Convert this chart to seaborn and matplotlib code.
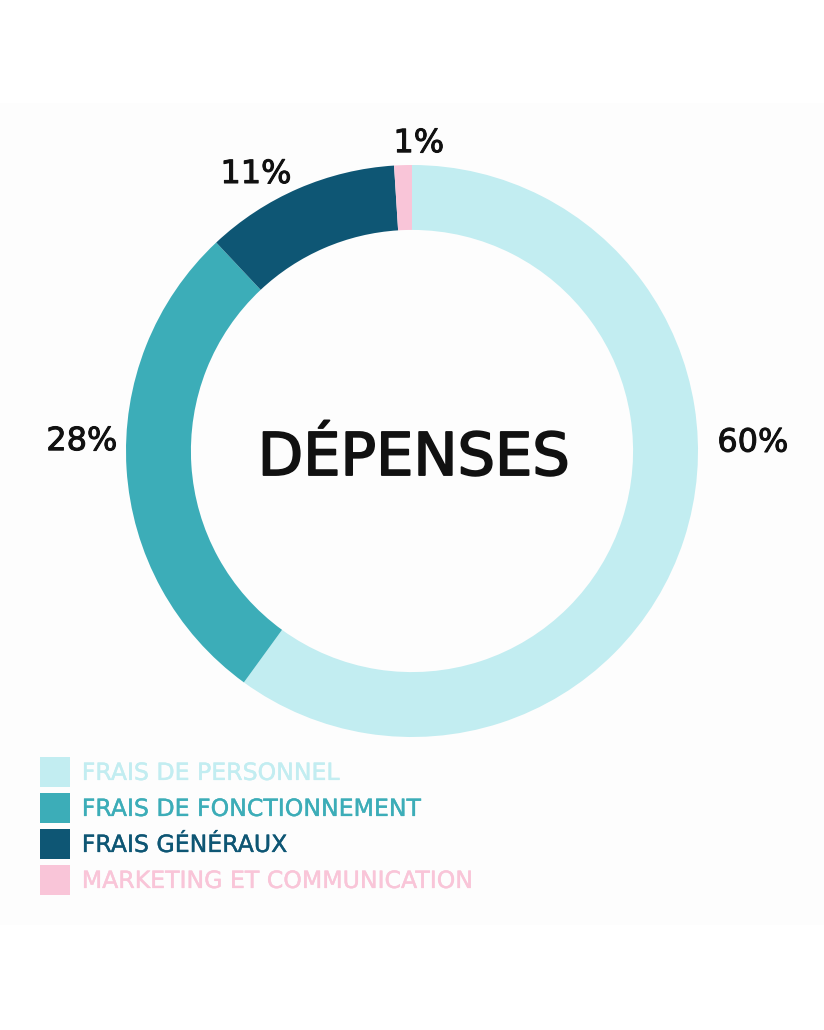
import matplotlib.pyplot as plt
from matplotlib import patheffects
from matplotlib.patches import Patch, Rectangle
import seaborn as sns


categories = [
    "FRAIS DE PERSONNEL",
    "FRAIS DE FONCTIONNEMENT",
    "FRAIS GÉNÉRAUX",
    "MARKETING ET COMMUNICATION",
]
shares = [60, 28, 11, 1]
share_labels = ["60%", "28%", "11%", "1%"]
colors = ["#c2edf1", "#3cadb8", "#0e5674", "#f9c5d8"]
center_title = "DÉPENSES"

# label anchors (donut units, baseline)
label_pos = [(1.192, -0.002), (-1.154, 0.003), (-0.545, 0.937), (0.024, 1.045)]


def heavier(width, color):
    # fake a medium weight by stroking the glyph outline
    return [patheffects.withStroke(linewidth=width, foreground=color)]


sns.set_theme(style="white")
plt.rcParams["font.family"] = ["DejaVu Sans"]

W, H = 824, 1030
fig = plt.figure(figsize=(W / 100, H / 100), dpi=100)
fig.patch.set_facecolor("white")

# light panel behind the chart
fig.patches.append(
    Rectangle((0, 1 - 925 / H), 1, (925 - 103) / H,
              transform=fig.transFigure, facecolor="#fdfdfd",
              edgecolor="none", zorder=-5)
)

# donut: centre (412, 451), radius 286 px
cx, cy, r = 412, 451, 286
ax = fig.add_axes([(cx - r) / W, 1 - (cy + r) / H, 2 * r / W, 2 * r / H])
ax.set_zorder(2)
ax.patch.set_alpha(0)
ax.pie(
    shares, colors=colors, startangle=90, counterclock=False, radius=1,
    wedgeprops=dict(width=0.227, edgecolor="none"),
)
ax.set_xlim(-1, 1)
ax.set_ylim(-1, 1)
ax.set_axis_off()

for (x, y), txt in zip(label_pos, share_labels):
    ax.text(x, y, txt, ha="center", va="baseline", fontsize=23, color="#111111",
            path_effects=heavier(0.7, "#111111"))

ax.text(0.005, -0.084, center_title, ha="center", va="baseline",
        fontsize=42.5, color="#111111", path_effects=heavier(1.3, "#111111"))

handles = [Patch(facecolor=c, edgecolor="none") for c in colors]
leg = fig.legend(
    handles, categories, loc="upper left",
    bbox_to_anchor=(40 / W, 1 - 757 / H), frameon=False,
    fontsize=17, labelcolor=colors, handlelength=1.27, handleheight=1.6,
    handletextpad=0.5, labelspacing=0.24, borderpad=0, borderaxespad=0,
)
leg.set_zorder(3)
for txt, c in zip(leg.get_texts(), colors):
    txt.set_path_effects(heavier(0.3, c))

fig.savefig("out.png", dpi=100, facecolor=fig.get_facecolor())
